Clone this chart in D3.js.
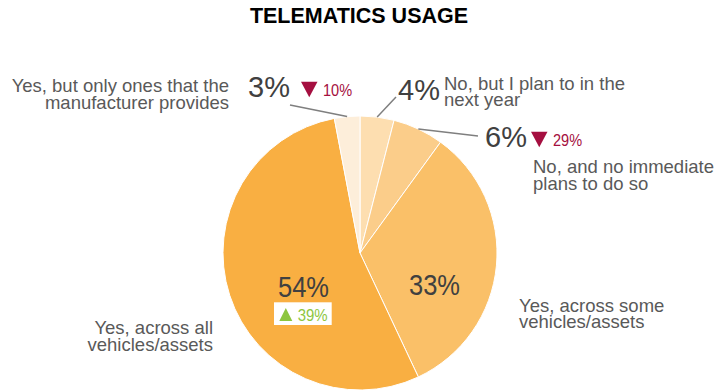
<!DOCTYPE html>
<html>
<head>
<meta charset="utf-8">
<script src="https://cdn.jsdelivr.net/npm/d3@7/dist/d3.min.js"></script>
<style>
  html, body { margin: 0; padding: 0; background: #fff; }
  svg { display: block; font-family: "Liberation Sans", Arial, sans-serif; }
</style>
</head>
<body>
<svg id="chart" width="717" height="391"></svg>
<script>
// Slices, clockwise from 12 o'clock
const categories = [
  ["No, but I plan to in the", "next year"],
  ["No, and no immediate", "plans to do so"],
  ["Yes, across some", "vehicles/assets"],
  ["Yes, across all", "vehicles/assets"],
  ["Yes, but only ones that the", "manufacturer provides"]
];
const shares = [4, 6, 33, 54, 3];          // percent of respondents
const changes = [null, -29, null, 39, -10]; // change vs. previous survey, percent
const sliceColors = ["#FDDEB0", "#FBCD8A", "#FAC068", "#F9AF42", "#FDEEDA"];
const chartTitle = "TELEMATICS USAGE";

// Label placement (relative to the pie centre)
const layout = [
  { inside: false, pct: [38, -153], pctAnchor: "start",
    delta: null, label: [84, -163.5], labelAnchor: "start", leader: [36, -156] },
  { inside: false, pct: [125, -106.3], pctAnchor: "start",
    delta: [171, -106.3], label: [173, -79.7], labelAnchor: "start", leader: [118, -117] },
  { inside: true, pct: [74.5, 42], pctAnchor: "middle",
    delta: null, label: [159, 58.7], labelAnchor: "start" },
  { inside: true, pct: [-56.5, 43.7], pctAnchor: "middle",
    delta: [-86, 68], label: [-147, 81], labelAnchor: "end" },
  { inside: false, pct: [-112, -156.3], pctAnchor: "start",
    delta: [-59, -156.3], label: [-131, -161], labelAnchor: "end", leader: [-70, -148] }
];

const W = 717, H = 391;
const cx = 360, cy = 253, R = 137;
const lineGap = 16.5;
const pctColor = "#404040", labelColor = "#595959";
const downColor = "#A50F40", upColor = "#8DC63F";

const svg = d3.select("#chart");

svg.append("text")
  .attr("x", 359).attr("y", 23.3)
  .attr("text-anchor", "middle")
  .attr("font-weight", "bold")
  .attr("font-size", 21.5)
  .attr("fill", "#000")
  .text(chartTitle);

const pie = d3.pie().sort(null).value(d => d).startAngle(0).endAngle(2 * Math.PI);
const arcs = pie(shares);
const arc = d3.arc().innerRadius(0).outerRadius(R);

const g = svg.append("g").attr("transform", `translate(${cx},${cy})`);

g.selectAll("path.slice")
  .data(arcs)
  .join("path")
  .attr("class", "slice")
  .attr("d", arc)
  .attr("fill", (d, i) => sliceColors[i])
  .attr("stroke", "#fff")
  .attr("stroke-width", 1);

// Leader lines from the outer edge of small slices
arcs.forEach((d, i) => {
  const L = layout[i];
  if (!L.leader) return;
  const mid = (d.startAngle + d.endAngle) / 2;
  const sx = Math.sin(mid) * R, sy = -Math.cos(mid) * R;
  g.append("line")
    .attr("x1", sx).attr("y1", sy)
    .attr("x2", L.leader[0]).attr("y2", L.leader[1])
    .attr("stroke", "#7F7F7F").attr("stroke-width", 1.5);
});

arcs.forEach((d, i) => {
  const L = layout[i];
  // percentage
  const t = g.append("text")
    .attr("text-anchor", L.pctAnchor)
    .attr("fill", pctColor);
  if (L.inside) {
    t.attr("font-size", 30)
      .attr("transform", `translate(${L.pct[0]},${L.pct[1]}) scale(0.85,1)`);
  } else {
    t.attr("font-size", 29).attr("x", L.pct[0]).attr("y", L.pct[1]);
  }
  t.text(shares[i] + "%");

  // category label
  const lt = g.append("text")
    .attr("text-anchor", L.labelAnchor)
    .attr("font-size", 18.5)
    .attr("fill", labelColor);
  categories[i].forEach((line, k) => {
    lt.append("tspan")
      .attr("x", L.label[0])
      .attr("y", L.label[1] + k * lineGap)
      .text(line);
  });

  // change vs. previous survey
  const c = changes[i];
  if (c !== null && L.delta) {
    const [dx, dy] = L.delta;
    const up = c > 0;
    const col = up ? upColor : downColor;
    const dg = g.append("g").attr("transform", `translate(${dx},${dy})`);
    if (up) {
      dg.append("rect")
        .attr("x", 0).attr("y", -18.7).attr("width", 57.7).attr("height", 22.7)
        .attr("fill", "#fff");
      dg.append("path")
        .attr("d", "M5.3,0 L18.3,0 L11.8,-13 Z")
        .attr("fill", col);
      dg.append("text")
        .attr("transform", "translate(23.7,0) scale(0.88,1)")
        .attr("font-size", 17).attr("fill", col)
        .text(Math.abs(c) + "%");
    } else {
      dg.append("path")
        .attr("d", "M0,-15 L16.5,-15 L8.25,0.5 Z")
        .attr("fill", col);
      dg.append("text")
        .attr("transform", "translate(22,-0.3) scale(0.88,1)")
        .attr("font-size", 16.5).attr("fill", col)
        .text(Math.abs(c) + "%");
    }
  }
});
</script>
</body>
</html>
